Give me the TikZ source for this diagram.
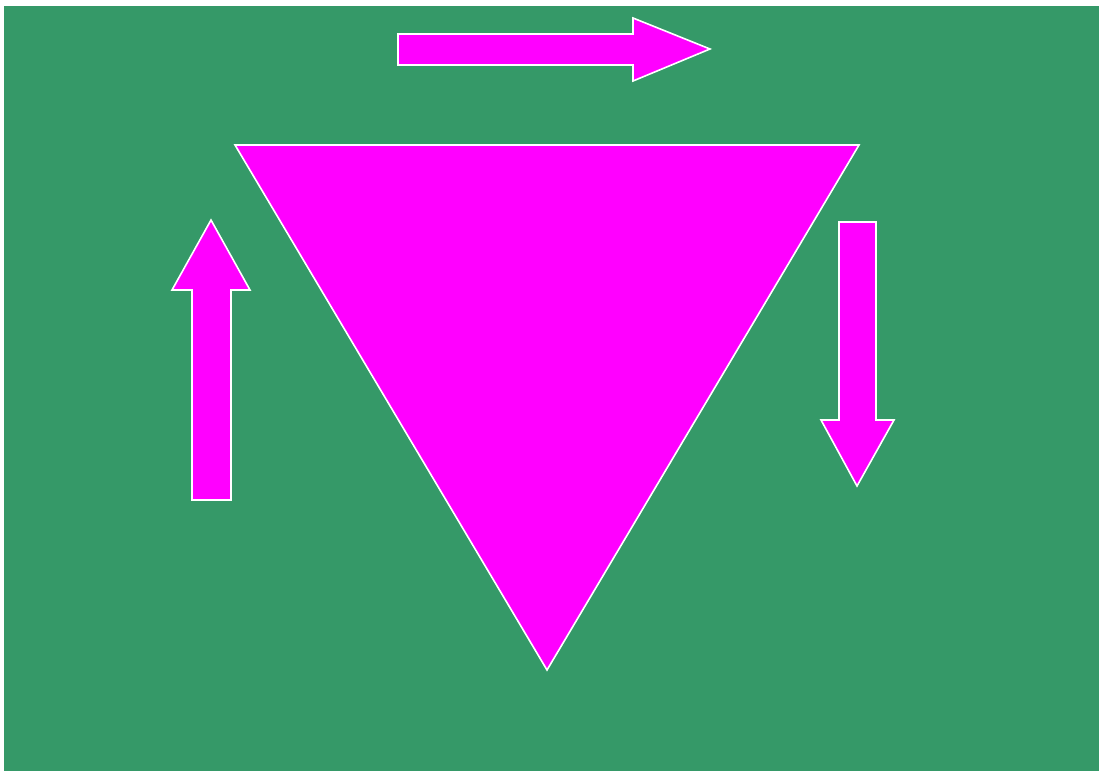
\documentclass[tikz,border=0pt]{standalone}
\usepackage{tikz}
\definecolor{bggreen}{HTML}{359968}
\definecolor{shmagenta}{HTML}{FF00FF}
\tikzset{
  shp/.style={draw=white, line width=1.6pt, fill=shmagenta, line join=miter},
}
\begin{document}
\begin{tikzpicture}[x=1pt, y=-1pt]
  \useasboundingbox (0,0) rectangle (1099,771);
  \fill[bggreen] (4,6) rectangle (1099,771);
  % triangle
  \draw[shp] (235,145) -- (859,145) -- (547,670) -- cycle;
  % top arrow, to the right
  \draw[shp] (398,34) -- (633,34) -- (633,18) -- (710,49) -- (633,81) -- (633,65) -- (398,65) -- cycle;
  % left arrow, up
  \draw[shp] (192,500) -- (192,290) -- (172,290) -- (211,220) -- (250,290) -- (231,290) -- (231,500) -- cycle;
  % right arrow, down
  \draw[shp] (839,222) -- (876,222) -- (876,420) -- (894,420) -- (857,486) -- (821,420) -- (839,420) -- cycle;
\end{tikzpicture}
\end{document}
